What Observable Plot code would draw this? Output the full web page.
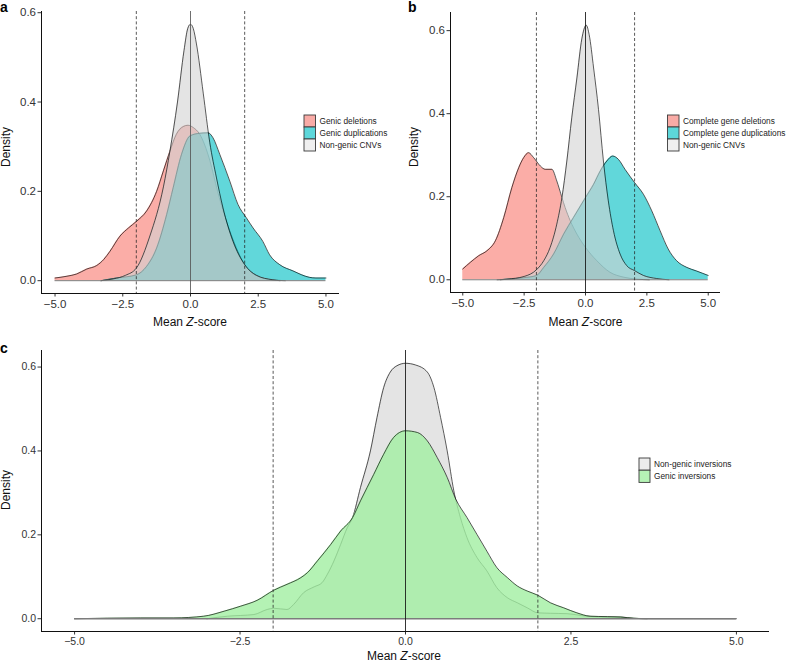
<!DOCTYPE html>
<html>
<head>
<meta charset="utf-8">
<script src="https://cdn.jsdelivr.net/npm/d3@7"></script>
<script src="https://cdn.jsdelivr.net/npm/@observablehq/plot@0.6"></script>
<style>
  body { margin: 0; background: #fff; }
  #fig { position: relative; width: 786px; height: 663px; overflow: hidden; font-family: "Liberation Sans", Arial, Helvetica, sans-serif; }
  #fig svg { position: absolute; }
</style>
</head>
<body>
<div id="fig"></div>
<script>
// ---------- shared values ----------
const xTicks = [-5, -2.5, 0, 2.5, 5];
const yTicks = [0, 0.2, 0.4, 0.6];
const cutoffs = [-2, 2];
const centre = [0];
const xTitle = "Mean Z-score";
const yTitle = "Density";

// ---------- panel a ----------
const aLabels = ["Genic deletions", "Genic duplications", "Non-genic CNVs"];
const aDelX = [-5, -4.56, -4.2, -3.83, -3.46, -3.21, -2.97, -2.6, -2.29, -1.99, -1.62, -1.25, -1.0, -0.76, -0.52, -0.27, -0.09, 0.1, 0.34, 0.71, 1.0, 1.5, 2.0, 2.5, 3.0, 3.5];
const aDelY = [0.006, 0.01, 0.015, 0.026, 0.034, 0.047, 0.066, 0.10, 0.118, 0.133, 0.156, 0.20, 0.246, 0.29, 0.328, 0.345, 0.348, 0.343, 0.328, 0.27, 0.2, 0.103, 0.036, 0.01, 0.002, 0];
const aDupX = [-3.3, -2.73, -2.0, -1.62, -1.25, -0.88, -0.64, -0.33, -0.02, 0.34, 0.65, 0.83, 1.08, 1.45, 1.75, 2.06, 2.31, 2.67, 2.92, 3.29, 3.78, 4.39, 4.63, 5.0];
const aDupY = [0, 0.006, 0.013, 0.032, 0.073, 0.148, 0.208, 0.283, 0.324, 0.33, 0.331, 0.32, 0.283, 0.223, 0.171, 0.141, 0.118, 0.088, 0.058, 0.036, 0.022, 0.0075, 0.006, 0.006];
const aNonX = [-3.3, -2.85, -2.4, -2.0, -1.5, -1.0, -0.76, -0.48, -0.24, -0.1, 0, 0.1, 0.22, 0.47, 0.71, 0.96, 1.2, 1.57, 2.0, 2.43, 3.04, 3.3];
const aNonY = [0, 0.004, 0.012, 0.028, 0.10, 0.21, 0.29, 0.40, 0.515, 0.565, 0.574, 0.565, 0.53, 0.42, 0.31, 0.23, 0.163, 0.088, 0.036, 0.012, 0.002, 0];

// ---------- panel b ----------
const bLabels = ["Complete gene deletions", "Complete gene duplications", "Non-genic CNVs"];
const bDelX = [-5, -4.69, -4.35, -4.01, -3.67, -3.33, -3.0, -2.72, -2.52, -2.32, -2.11, -1.84, -1.64, -1.37, -1.17, -0.96, -0.83, -0.62, -0.35, 0, 0.46, 1.0, 1.54, 2.09, 2.6];
const bDelY = [0.026, 0.042, 0.058, 0.07, 0.094, 0.15, 0.222, 0.27, 0.294, 0.306, 0.294, 0.274, 0.266, 0.266, 0.238, 0.198, 0.174, 0.142, 0.11, 0.078, 0.046, 0.018, 0.0064, 0.0016, 0];
const bDupX = [-3.47, -2.52, -2.0, -1.7, -1.3, -0.89, -0.49, 0, 0.33, 0.6, 0.87, 1.11, 1.34, 1.61, 2.0, 2.36, 2.7, 3.04, 3.37, 3.71, 4.12, 4.53, 5.0];
const bDupY = [0, 0.005, 0.01, 0.03, 0.062, 0.11, 0.15, 0.198, 0.23, 0.262, 0.286, 0.298, 0.29, 0.266, 0.234, 0.206, 0.166, 0.118, 0.074, 0.046, 0.03, 0.021, 0.0104];
const bNonX = [-3.6, -3.2, -2.5, -2.0, -1.7, -1.44, -1.17, -0.96, -0.76, -0.56, -0.35, -0.15, 0.03, 0.15, 0.33, 0.53, 0.73, 0.93, 1.14, 1.41, 1.68, 2.0, 2.36, 2.9, 3.4];
const bNonY = [0, 0.0016, 0.008, 0.024, 0.046, 0.078, 0.134, 0.198, 0.286, 0.39, 0.486, 0.58, 0.613, 0.59, 0.51, 0.41, 0.286, 0.19, 0.118, 0.062, 0.034, 0.022, 0.0104, 0.003, 0];

// ---------- panel c ----------
const cLabels = ["Non-genic inversions", "Genic inversions"];
const cNonX = [-3.0, -2.69, -2.29, -2.09, -1.99, -1.79, -1.69, -1.54, -1.38, -1.26, -1.18, -1.08, -0.98, -0.88, -0.80, -0.68, -0.53, -0.43, -0.33, -0.23, -0.13, 0, 0.15, 0.33, 0.43, 0.53, 0.63, 0.73, 0.83, 0.93, 1.08, 1.23, 1.38, 1.54, 1.69, 1.84, 2.0, 2.19, 2.44, 2.74, 3.05, 3.25, 3.45, 3.65];
const cNonY = [0, 0.006, 0.010, 0.022, 0.025, 0.022, 0.034, 0.062, 0.076, 0.086, 0.106, 0.138, 0.177, 0.217, 0.241, 0.313, 0.40, 0.48, 0.551, 0.588, 0.603, 0.609, 0.605, 0.588, 0.551, 0.48, 0.40, 0.305, 0.241, 0.193, 0.146, 0.114, 0.074, 0.05, 0.038, 0.026, 0.014, 0.013, 0.012, 0.006, 0.004, 0.004, 0.001, 0];
const cGenX = [-5.0, -4.0, -3.5, -3.05, -2.74, -2.49, -2.24, -1.99, -1.79, -1.58, -1.48, -1.33, -1.13, -0.98, -0.80, -0.68, -0.48, -0.33, -0.18, 0, 0.18, 0.33, 0.48, 0.63, 0.76, 0.93, 1.08, 1.23, 1.38, 1.54, 1.69, 1.84, 2.0, 2.19, 2.39, 2.59, 2.79, 3.05, 3.25, 3.45, 3.7, 5.0];
const cGenY = [0, 0.002, 0.002, 0.006, 0.018, 0.030, 0.044, 0.068, 0.082, 0.098, 0.11, 0.138, 0.177, 0.209, 0.241, 0.281, 0.344, 0.392, 0.432, 0.448, 0.444, 0.424, 0.384, 0.337, 0.285, 0.241, 0.201, 0.161, 0.122, 0.098, 0.078, 0.066, 0.056, 0.038, 0.026, 0.014, 0.006, 0.005, 0.004, 0.001, 0, 0];

// ---------- helpers ----------
const zip = (xs, ys) => xs.map((x, i) => ({x, y: ys[i]}));
const fig = document.getElementById("fig");

function densityPanel({series, left, top, width, height, margin, fontSize, vColor, baseW}) {
  const all = series.flatMap(s => s.data);
  const yMax = d3.max(all, d => d.y);
  const yPad = 0.05 * yMax;
  const xExt = d3.extent(all, d => d.x);
  const xPad = 0.05 * (xExt[1] - xExt[0]);
  const xDomain = [xExt[0] - xPad, xExt[1] + xPad];
  const yDomain = [-yPad, yMax + yPad];
  const marks = [];
  for (const s of series) {
    marks.push(Plot.areaY(s.data, {x: "x", y: "y", fill: s.fill, fillOpacity: s.opacity, curve: "monotone-x"}));
    marks.push(Plot.lineY(s.data, {x: "x", y: "y", stroke: "#000", strokeWidth: 0.65, curve: "monotone-x"}));
  }
  marks.push(Plot.ruleY([{x1: xExt[0], x2: xExt[1], y: 0}], {x1: "x1", x2: "x2", y: "y", stroke: "#7c7c7c", strokeWidth: baseW}));
  marks.push(Plot.ruleX(cutoffs, {stroke: "#222", strokeWidth: 0.75, strokeDasharray: "3,2.2"}));
  marks.push(Plot.ruleX(centre, {stroke: vColor, strokeWidth: 0.85}));
  marks.push(Plot.ruleX([xDomain[0]], {stroke: "#111", strokeWidth: 1}));
  marks.push(Plot.ruleY([yDomain[0]], {stroke: "#111", strokeWidth: 1}));
  const svg = Plot.plot({
    width, height,
    marginLeft: margin[3], marginRight: margin[1], marginTop: margin[0], marginBottom: margin[2],
    style: {fontSize: fontSize + "px", fontFamily: '"Liberation Sans", Arial, sans-serif', color: "#333", background: "transparent", overflow: "visible"},
    x: {domain: xDomain, ticks: xTicks, tickFormat: d3.format(".1f"), tickSize: 3.5, tickPadding: 2.5, label: null},
    y: {domain: yDomain, ticks: yTicks, tickFormat: d3.format(".1f"), tickSize: 3.5, tickPadding: 2, label: null},
    marks
  });
  svg.style.left = left + "px";
  svg.style.top = top + "px";
  fig.appendChild(svg);
}

const salmon = "#F8766D", cyan = "#00BFC4", grey = "#D2D2D2", green = "#A1EFA1";

densityPanel({
  series: [
    {data: zip(aDelX, aDelY), fill: salmon, opacity: 0.6},
    {data: zip(aDupX, aDupY), fill: cyan, opacity: 0.62},
    {data: zip(aNonX, aNonY), fill: grey, opacity: 0.6}
  ],
  left: 0, top: 0, width: 390, height: 330, margin: [11, 51, 37, 41], fontSize: 11.5, vColor: "#555", baseW: 1
});
densityPanel({
  series: [
    {data: zip(bDelX, bDelY), fill: salmon, opacity: 0.6},
    {data: zip(bDupX, bDupY), fill: cyan, opacity: 0.62},
    {data: zip(bNonX, bNonY), fill: grey, opacity: 0.6}
  ],
  left: 390, top: 0, width: 396, height: 330, margin: [12, 66, 38, 60], fontSize: 11.5, vColor: "#111", baseW: 1
});
densityPanel({
  series: [
    {data: zip(cNonX, cNonY), fill: grey, opacity: 0.6},
    {data: zip(cGenX, cGenY), fill: green, opacity: 0.8}
  ],
  left: 0, top: 330, width: 786, height: 333, margin: [20, 17, 32, 41], fontSize: 10.5, vColor: "#111", baseW: 1.4
});

// ---------- overlay: panel letters, axis titles, legends ----------
const ov = d3.select(fig).append("svg")
  .attr("width", 786).attr("height", 663)
  .style("left", "0px").style("top", "0px")
  .style("font-family", '"Liberation Sans", Arial, sans-serif');

const letters = [["a", 0, 12], ["b", 408, 12], ["c", 0, 353]];
for (const [t, x, y] of letters) {
  ov.append("text").attr("x", x).attr("y", y).attr("font-size", 14).attr("font-weight", "bold").attr("fill", "#000").text(t);
}
const xTitles = [[190, 325.5], [585.5, 325.5], [404, 659.5]];
for (const [x, y] of xTitles) {
  const t = ov.append("text").attr("x", x).attr("y", y).attr("text-anchor", "middle").attr("font-size", 12).attr("fill", "#111");
  const [pre, post] = xTitle.split("Z");
  t.append("tspan").text(pre);
  t.append("tspan").attr("font-style", "italic").text("Z");
  t.append("tspan").text(post);
}
const yTitles = [[9.5, 147], [417.5, 147], [10, 490]];
for (const [x, y] of yTitles) {
  ov.append("text").attr("transform", `translate(${x},${y}) rotate(-90)`).attr("text-anchor", "middle")
    .attr("font-size", 12).attr("fill", "#111").text(yTitle);
}

function legend(x, y, keyW, keyH, labels, colors, fs) {
  labels.forEach((lab, i) => {
    ov.append("rect").attr("x", x).attr("y", y + i * keyH).attr("width", keyW).attr("height", keyH)
      .attr("fill", colors[i]).attr("stroke", "#3a3a3a").attr("stroke-width", 0.9);
    ov.append("text").attr("x", x + keyW + 4).attr("y", y + i * keyH + keyH / 2 + fs * 0.36)
      .attr("font-size", fs).attr("fill", "#222").text(lab);
  });
}
legend(304, 115, 11.5, 12, aLabels, ["#F9ABA6", "#5DD7DA", "#EFEFEF"], 8.3);
legend(667.5, 115, 11.5, 12, bLabels, ["#F9ABA6", "#5DD7DA", "#EFEFEF"], 8.3);
legend(639, 458, 11, 12.2, cLabels, ["#ECECEC", "#B5F3B5"], 8.3);
</script>
</body>
</html>
